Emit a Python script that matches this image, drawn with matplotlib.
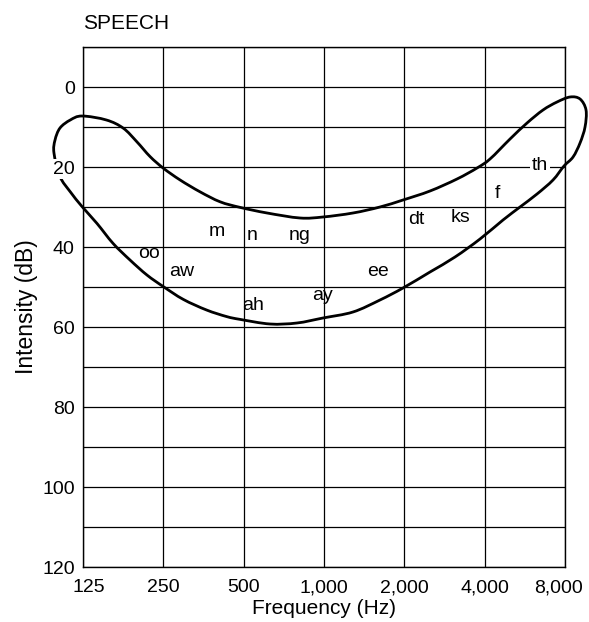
import matplotlib
matplotlib.use('Agg')
import numpy as np
import matplotlib.pyplot as plt
from matplotlib.path import Path
from matplotlib.patches import PathPatch
from matplotlib.ticker import FixedLocator, NullFormatter
from matplotlib.transforms import ScaledTranslation

plt.rcParams['font.family'] = ['Liberation Sans', 'DejaVu Sans']

# axis ticks
freq_ticks = [125, 250, 500, 1000, 2000, 4000, 8000]
freq_labels = ['125', '250', '500', '1,000', '2,000', '4,000', '8,000']
db_ticks = [0, 20, 40, 60, 80, 100, 120]
db_grid = [-10, 10, 30, 50, 70, 90, 110]

# outline of the speech "banana" (Hz, dB),
# clockwise from the top of the left loop
banana_hz = [124, 153, 177, 199, 223, 250, 289, 343, 408, 485, 612, 813,
             991, 1284, 1621, 1977, 2496, 3151, 3745, 4189, 4979, 5765, 6618,
             7468, 8356, 9108, 9591, 9509, 9108, 8575, 7931, 7214, 6284, 5426,
             4686, 3843, 3097, 2496, 1977, 1621, 1284, 991, 792, 628, 485, 432,
             363, 297, 250, 217, 187.5, 162, 141, 124, 112, 102.5, 97.3, 98.2,
             102.5, 112]
banana_db = [7.25, 8.25, 10.3, 13.7, 17.4, 20.3, 23.25, 26.2, 28.7, 30.1,
             31.5, 32.75, 32.5, 31.5, 30, 28.25, 26, 23, 20.25, 18, 13, 9,
             5.75, 3.75, 2.5, 3, 5.75, 10, 14, 17.5, 19.75, 23.25, 26.75, 30,
             33.25, 38, 42.5, 46.25, 50.25, 53.25, 56.25, 57.75, 59, 59.25,
             58.1, 57.4, 55.75, 53.1, 49.9, 47, 43.25, 39.1, 34.1, 29.9, 26.2,
             22.4, 16.5, 13.25, 10.25, 8.25]

# speech sounds
sounds = ['oo', 'aw', 'm', 'n', 'ah', 'ng', 'ay', 'ee', 'dt', 'ks', 'f', 'th']
sound_hz = [221, 294, 397, 537, 542, 813, 983, 1593, 2212, 3261, 4450, 6450]
sound_db = [41.5, 46, 36.25, 37, 54.5, 37, 52, 46.25, 33.25, 32.5, 26.5, 19.5]


def closed_smooth_path(hz, db):
    # closed Catmull-Rom outline through the read points, as cubic Beziers
    p = np.column_stack([np.log2(hz), db])
    n = len(p)
    verts = [p[0]]
    codes = [Path.MOVETO]
    for i in range(n):
        p0, p1, p2, p3 = p[i - 1], p[i], p[(i + 1) % n], p[(i + 2) % n]
        verts += [p1 + (p2 - p0) / 6, p2 - (p3 - p1) / 6, p2]
        codes += [Path.CURVE4] * 3
    v = np.array(verts)
    v[:, 0] = 2 ** v[:, 0]
    return Path(v, codes)


fig = plt.figure(figsize=(5.89, 6.22), dpi=100)
ax = fig.add_axes([83 / 589, 1 - 567 / 622, 482 / 589, 520 / 622])

ax.set_xscale('log', base=2)
ax.set_xlim(125, 8000)
ax.set_ylim(120, -10)

ax.xaxis.set_major_locator(FixedLocator(freq_ticks))
ax.set_xticklabels(freq_labels)
ax.xaxis.set_minor_locator(FixedLocator([]))
ax.xaxis.set_minor_formatter(NullFormatter())
ax.yaxis.set_major_locator(FixedLocator(db_ticks))
ax.yaxis.set_minor_locator(FixedLocator(db_grid))
ax.yaxis.set_minor_formatter(NullFormatter())

ax.grid(True, which='both', color='black', linewidth=0.9)
ax.tick_params(which='both', length=0, labelsize=14)
ax.tick_params(axis='y', pad=6)
ax.tick_params(axis='x', pad=9)
for s in ax.spines.values():
    s.set_linewidth(1.0)

for lbl in ax.get_yticklabels():
    lbl.set_bbox(dict(facecolor='white', edgecolor='none', pad=1))

xl = ax.get_xticklabels()
xl[0].set_transform(xl[0].get_transform() + ScaledTranslation(6 / 100, 0, fig.dpi_scale_trans))
xl[-1].set_transform(xl[-1].get_transform() + ScaledTranslation(-7 / 100, 0, fig.dpi_scale_trans))

banana = PathPatch(closed_smooth_path(banana_hz, banana_db), facecolor='none',
                   edgecolor='black', linewidth=2.0, clip_on=False, zorder=1)
ax.add_patch(banana)

for s, x, y in zip(sounds, sound_hz, sound_db):
    if s == 'th':
        ax.text(x, y, s, fontsize=14, ha='center', va='center', zorder=3,
                bbox=dict(facecolor='white', edgecolor='none', pad=1.5))
    else:
        ax.text(x, y, s, fontsize=14, ha='center', va='center', zorder=3)

ax.set_xlabel('Frequency (Hz)', fontsize=15, labelpad=2)
ax.set_ylabel('Intensity (dB)', fontsize=16.5, labelpad=3)
fig.text(83 / 589, 1 - 29 / 622, 'SPEECH', fontsize=15, ha='left', va='baseline')

fig.savefig('out.png', dpi=100)
